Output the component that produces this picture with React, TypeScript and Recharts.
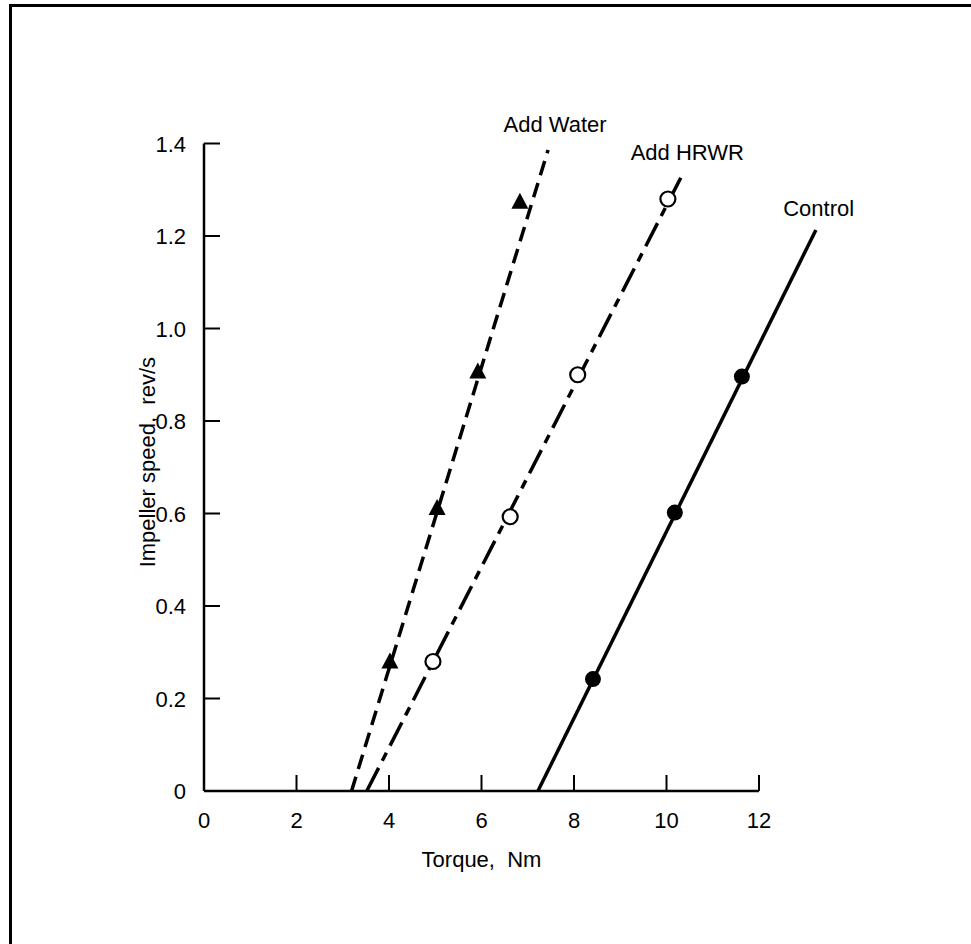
import React from 'react';
import {
  ComposedChart,
  Line,
  Scatter,
  XAxis,
  YAxis,
  ReferenceLine,
  ReferenceDot,
} from 'recharts';

const FONT = '"Liberation Sans", Arial, Helvetica, sans-serif';

const xTicks = [0, 2, 4, 6, 8, 10, 12];
const yTicks = [0, 0.2, 0.4, 0.6, 0.8, 1.0, 1.2, 1.4];

// measured points
const waterPoints = [
  { x: 4.02, y: 0.28 },
  { x: 5.04, y: 0.612 },
  { x: 5.92, y: 0.907 },
  { x: 6.83, y: 1.274 },
];
const hrwrPoints = [
  { x: 4.95, y: 0.28 },
  { x: 6.62, y: 0.593 },
  { x: 8.08, y: 0.9 },
  { x: 10.03, y: 1.28 },
];
const controlPoints = [
  { x: 8.41, y: 0.242 },
  { x: 10.18, y: 0.602 },
  { x: 11.63, y: 0.896 },
];

// fitted lines (end points as drawn)
const waterFit = [
  { x: 3.19, y: 0 },
  { x: 7.44, y: 1.386 },
];
const hrwrFit = [
  { x: 3.52, y: 0 },
  { x: 10.36, y: 1.336 },
];
const controlFit = [
  { x: 7.22, y: 0 },
  { x: 13.23, y: 1.213 },
];

const seriesLabels = [
  { text: 'Add Water', x: 7.59, y: 1.442 },
  { text: 'Add HRWR', x: 10.45, y: 1.382 },
  { text: 'Control', x: 13.29, y: 1.261 },
];
const xTitle = { text: 'Torque,\u00A0 Nm', x: 6, y: -0.147 };
const yTitle = { text: 'Impeller speed,\u00A0 rev/s', x: -1.23, y: 0.711 };

const XTick = (props: any) => {
  const { x, y, payload } = props;
  return (
    <g>
      {payload.value !== 0 && (
        <line x1={x} y1={y} x2={x} y2={y - 16} stroke="#000" strokeWidth={2} />
      )}
      <text x={x} y={y + 37} textAnchor="middle" fontSize={22} fontFamily={FONT} fill="#000">
        {payload.value}
      </text>
    </g>
  );
};

const YTick = (props: any) => {
  const { x, y, payload } = props;
  const v = payload.value;
  return (
    <g>
      {v !== 0 && <line x1={x} y1={y} x2={x + 16} y2={y} stroke="#000" strokeWidth={2} />}
      <text x={x - 18} y={y + 8} textAnchor="end" fontSize={22} fontFamily={FONT} fill="#000">
        {v === 0 ? '0' : v.toFixed(1)}
      </text>
    </g>
  );
};

const FilledCircle = (p: any) => <circle cx={p.cx} cy={p.cy} r={8} fill="#000" />;
const OpenCircle = (p: any) => (
  <circle cx={p.cx} cy={p.cy} r={7.5} fill="#fff" stroke="#000" strokeWidth={2.2} />
);
const Triangle = (p: any) => (
  <polygon
    points={`${p.cx},${p.cy - 9} ${p.cx + 8.5},${p.cy + 7} ${p.cx - 8.5},${p.cy + 7}`}
    fill="#000"
  />
);

const makeTextShape = (text: string, rotate = false) => (p: any) => {
  const { cx, cy } = p;
  return (
    <text
      x={cx}
      y={cy}
      dy={8}
      textAnchor="middle"
      fontSize={22}
      fontFamily={FONT}
      fill="#000"
      style={{ whiteSpace: 'pre' }}
      transform={rotate ? `rotate(-90, ${cx}, ${cy})` : undefined}
    >
      {text}
    </text>
  );
};

export default function App() {
  return (
    <div style={{ position: 'absolute', left: 0, top: 0, width: 971, height: 944, background: '#fff' }}>
      <div
        style={{
          position: 'absolute',
          left: 9,
          top: 4,
          width: 962,
          height: 940,
          borderTop: '3px solid #000',
          borderLeft: '3px solid #000',
          boxSizing: 'border-box',
        }}
      />
      <ComposedChart
        width={971}
        height={944}
        margin={{ top: 143.5, right: 119.5, bottom: 123, left: 144 }}
        style={{ position: 'absolute', left: 0, top: 0 }}
      >
        <XAxis
          type="number"
          dataKey="x"
          domain={[0, 14]}
          ticks={xTicks}
          interval={0}
          height={30}
          axisLine={false}
          tickLine={false}
          tickSize={0}
          tickMargin={0}
          tick={<XTick />}
        />
        <YAxis
          type="number"
          dataKey="y"
          domain={[0, 1.4]}
          ticks={yTicks}
          interval={0}
          width={60}
          axisLine={{ stroke: '#000', strokeWidth: 2.5 }}
          tickLine={false}
          tickSize={0}
          tickMargin={0}
          tick={<YTick />}
        />
        <ReferenceLine
          segment={[
            { x: 0, y: 0 },
            { x: 12, y: 0 },
          ]}
          stroke="#000"
          strokeWidth={2.5}
        />
        <Line
          data={waterFit}
          dataKey="y"
          type="linear"
          stroke="#000"
          strokeWidth={3.5}
          strokeDasharray="15 8"
          dot={false}
          activeDot={false}
          isAnimationActive={false}
        />
        <Line
          data={hrwrFit}
          dataKey="y"
          type="linear"
          stroke="#000"
          strokeWidth={3.5}
          strokeDasharray="26 8 9 8"
          dot={false}
          activeDot={false}
          isAnimationActive={false}
        />
        <Line
          data={controlFit}
          dataKey="y"
          type="linear"
          stroke="#000"
          strokeWidth={3.5}
          dot={false}
          activeDot={false}
          isAnimationActive={false}
        />
        <Scatter data={waterPoints} dataKey="y" shape={Triangle} isAnimationActive={false} />
        <Scatter data={hrwrPoints} dataKey="y" shape={OpenCircle} isAnimationActive={false} />
        <Scatter data={controlPoints} dataKey="y" shape={FilledCircle} isAnimationActive={false} />
        {seriesLabels.map((l) => (
          <ReferenceDot
            key={l.text}
            x={l.x}
            y={l.y}
            r={0}
            ifOverflow="visible"
            shape={makeTextShape(l.text)}
          />
        ))}
        <ReferenceDot x={xTitle.x} y={xTitle.y} r={0} ifOverflow="visible" shape={makeTextShape(xTitle.text)} />
        <ReferenceDot
          x={yTitle.x}
          y={yTitle.y}
          r={0}
          ifOverflow="visible"
          shape={makeTextShape(yTitle.text, true)}
        />
      </ComposedChart>
    </div>
  );
}
